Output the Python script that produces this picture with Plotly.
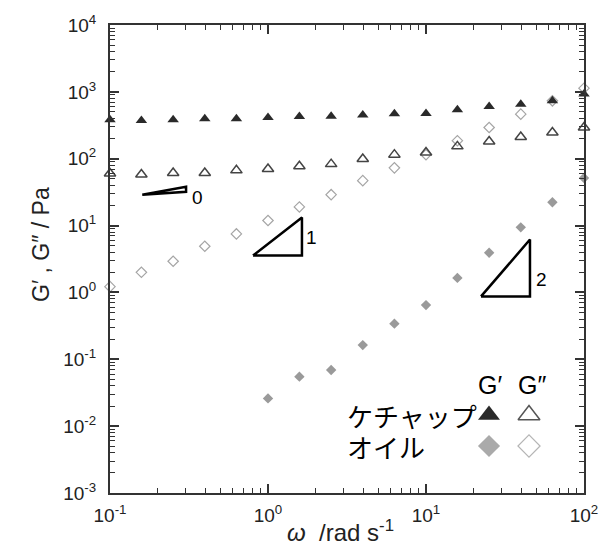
import plotly.graph_objects as go

# ---------------- data ----------------
omega = [0.1, 0.158, 0.251, 0.398, 0.631, 1.0, 1.58, 2.51, 3.98, 6.31,
         10.0, 15.8, 25.1, 39.8, 63.1, 100.0]
ketchup_Gp = [382, 373, 382, 395, 395, 413, 428, 433, 449, 470, 474, 538, 604, 655, 734, 925]
ketchup_Gpp = [60, 58, 61, 61, 67, 70, 77, 83, 99, 115, 124, 153, 181, 211, 247, 293]
oil_Gpp = [1.22, 2.0, 2.93, 4.9, 7.5, 11.9, 19, 29, 47, 73, 115, 186, 293, 464, 734, 1135]
oil_omega_Gp = [1.0, 1.58, 2.51, 3.98, 6.31, 10.0, 15.8, 25.1, 39.8, 63.1, 100.0]
oil_Gp = [0.026, 0.055, 0.069, 0.163, 0.341, 0.646, 1.65, 3.92, 9.4, 22.3, 51.6]

x_tickvals = [0.1, 1, 10, 100]
x_ticktext = ["10<sup>-1</sup>", "10<sup>0</sup>", "10<sup>1</sup>", "10<sup>2</sup>"]
y_tickvals = [1e-3, 1e-2, 1e-1, 1, 10, 100, 1000, 10000]
y_ticktext = ["10<sup>-3</sup>", "10<sup>-2</sup>", "10<sup>-1</sup>", "10<sup>0</sup>",
              "10<sup>1</sup>", "10<sup>2</sup>", "10<sup>3</sup>", "10<sup>4</sup>"]

# slope guide triangles (x list, y list) and their labels
slope0_x = [0.16, 0.303, 0.303, 0.16]
slope0_y = [29.0, 32.1, 38.2, 29.0]
slope1_x = [0.804, 1.64, 1.64, 0.804]
slope1_y = [3.56, 3.56, 13.2, 3.56]
slope2_x = [22.3, 45.5, 45.5, 22.3]
slope2_y = [0.871, 0.871, 6.18, 0.871]
slope_labels = ["0", "1", "2"]

legend_rows = ["ケチャップ", "オイル"]
legend_cols = ["G′", "G″"]

FONT = "Liberation Sans, Arial, sans-serif"
JP = "Noto Sans CJK JP, sans-serif"

W, H = 600, 560
ML, MR, MT, MB = 110, 16, 25, 67
PLOT_W, PLOT_H = W - ML - MR, H - MT - MB
XLOG = (-1, 2)
YLOG = (-3, 4)


def px2log(px, py):
    """window pixel -> log10 data coordinates of the main axes"""
    lx = XLOG[0] + (XLOG[1] - XLOG[0]) * (px - ML) / PLOT_W
    ly = YLOG[1] - (YLOG[1] - YLOG[0]) * (py - MT) / PLOT_H
    return lx, ly


def px2paper(px, py):
    return (px - ML) / PLOT_W, 1 - (py - MT) / PLOT_H


fig = go.Figure()

# data traces
fig.add_trace(go.Scatter(x=omega, y=oil_Gpp, mode="markers", cliponaxis=False,
                         marker=dict(symbol="diamond-open", size=8, color="#a5a5a5",
                                     line=dict(width=1.2, color="#a5a5a5"))))
fig.add_trace(go.Scatter(x=omega, y=ketchup_Gpp, mode="markers", cliponaxis=False,
                         marker=dict(symbol="triangle-up-open", size=10, color="#444444",
                                     line=dict(width=1.5, color="#444444"))))
fig.add_trace(go.Scatter(x=omega, y=ketchup_Gp, mode="markers", cliponaxis=False,
                         marker=dict(symbol="triangle-up", size=10, color="#2a2a2a")))
fig.add_trace(go.Scatter(x=oil_omega_Gp, y=oil_Gp, mode="markers", cliponaxis=False,
                         marker=dict(symbol="diamond", size=8, color="#9a9a9a")))

# slope triangles
for sx, sy in [(slope0_x, slope0_y), (slope1_x, slope1_y), (slope2_x, slope2_y)]:
    fig.add_trace(go.Scatter(x=sx, y=sy, mode="lines", line=dict(color="black", width=2.5),
                             hoverinfo="skip"))

# legend key markers (placed in main-axes coordinates)
(kx1, ky1), (kx2, ky2) = px2log(489, 415), px2log(529, 446)
legend_keys = [
    (kx1, ky1, dict(symbol="triangle-up", size=19, color="#2a2a2a")),
    (kx2, ky1, dict(symbol="triangle-up-open", size=19, color="#555555",
                    line=dict(width=1.5, color="#555555"))),
    (kx1, ky2, dict(symbol="diamond", size=17, color="#aaaaaa")),
    (kx2, ky2, dict(symbol="diamond-open", size=17, color="#b5b5b5",
                    line=dict(width=1.2, color="#b5b5b5"))),
]
for kx, ky, mk in legend_keys:
    fig.add_trace(go.Scatter(x=[10 ** kx], y=[10 ** ky], mode="markers", cliponaxis=False,
                             marker=mk, hoverinfo="skip"))

minor_vals = [k * 10 ** n for n in range(-3, 4) for k in range(2, 10)]

axis_common = dict(type="log", showgrid=False, zeroline=False, showline=True,
                   automargin=False,
                   linecolor="#333333", linewidth=2, mirror="allticks",
                   ticks="inside", ticklen=9, tickwidth=1.5, tickcolor="#333333",
                   tickmode="array", tickfont=dict(family=FONT, size=19, color="#222222"),
                   minor=dict(tickmode="array", tickvals=minor_vals, ticks="inside",
                              ticklen=5, tickwidth=1.2, tickcolor="#333333", showgrid=False))

fig.update_layout(
    width=W, height=H, autosize=False,
    margin=dict(l=ML, r=MR, t=MT, b=MB, autoexpand=False),
    plot_bgcolor="white", paper_bgcolor="white",
    showlegend=False,
    xaxis=dict(range=list(XLOG), tickvals=x_tickvals, ticktext=x_ticktext,
               ticklabelstandoff=4, **axis_common),
    yaxis=dict(range=list(YLOG), tickvals=y_tickvals, ticktext=y_ticktext,
               ticklabelstandoff=8, **axis_common),
)

annotations = []
# slope labels
for lab, (px, py) in zip(slope_labels, [(197, 197), (311, 237), (541, 279)]):
    sx, sy = px2log(px, py)
    annotations.append(dict(text=lab, x=sx, y=sy, xref="x", yref="y", showarrow=False,
                            font=dict(family=FONT, size=19, color="black")))
# legend texts
g1x, gy = px2log(490, 385)
g2x, _ = px2log(532, 385)
annotations.append(dict(text=legend_cols[0], x=g1x, y=gy, xref="x", yref="y",
                        showarrow=False, font=dict(family=FONT, size=25, color="black")))
annotations.append(dict(text=legend_cols[1], x=g2x, y=gy, xref="x", yref="y",
                        showarrow=False, font=dict(family=FONT, size=25, color="black")))
tx, _ = px2log(345, 0)
annotations.append(dict(text=legend_rows[0], x=tx, y=ky1, xref="x", yref="y",
                        xanchor="left", showarrow=False,
                        font=dict(family=JP, size=26, color="black")))
annotations.append(dict(text=legend_rows[1], x=tx, y=ky2, xref="x", yref="y",
                        xanchor="left", showarrow=False,
                        font=dict(family=JP, size=26, color="black")))
# axis titles
ax_, ay_ = px2paper(340, 548)
annotations.append(dict(text="<i>ω</i>  /rad s<sup>-1</sup>", x=ax_, y=ay_, xref="paper", yref="paper",
                        showarrow=False, font=dict(family=FONT, size=24, color="#222222")))
bx_, by_ = px2paper(26, 245)
annotations.append(dict(text="G′ , G″ / Pa", textangle=-90, x=bx_, y=by_, xref="paper", yref="paper",
                        showarrow=False, font=dict(family=FONT, size=23, color="#222222")))
fig.update_layout(annotations=annotations)

fig.write_html("out.html", config={"displayModeBar": False},
               post_script="document.body.style.margin='0';document.body.style.overflow='hidden';"
                           "document.documentElement.style.overflow='hidden';")
